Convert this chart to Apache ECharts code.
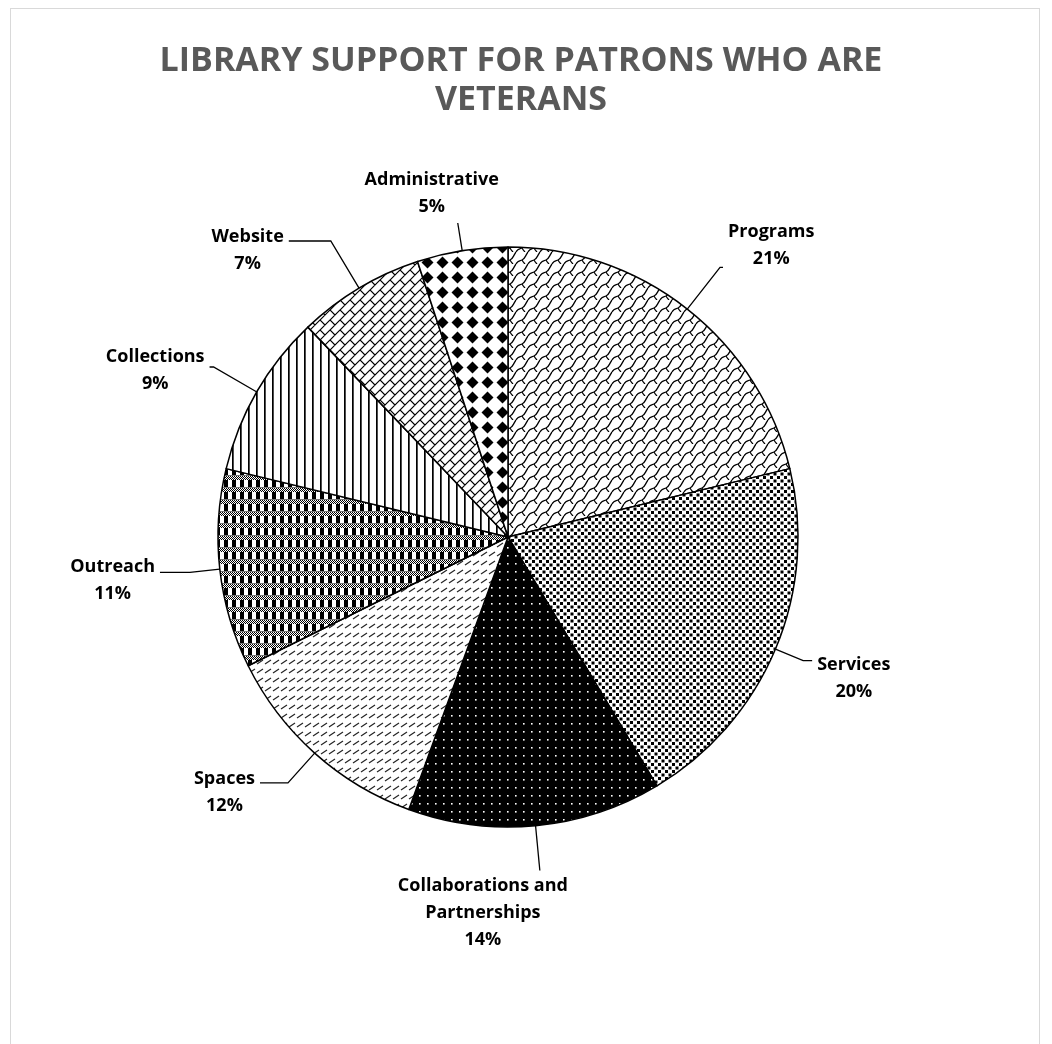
<!DOCTYPE html>
<html><head><meta charset="utf-8">
<script src="https://cdn.jsdelivr.net/npm/echarts@6/dist/echarts.min.js"></script>
<style>html,body{margin:0;padding:0;background:#fff}
#frame{position:absolute;left:10px;top:8px;width:1030px;height:1040px;border:1px solid #d9d9d9;box-sizing:border-box}
#c{position:absolute;left:0;top:0;width:1052px;height:1044px}</style>
</head><body><div id="frame"></div><div id="c"></div>
<script>
const categories = ['Programs','Services','Collaborations and\nPartnerships','Spaces','Outreach','Collections','Website','Administrative'];
const values = [21,20,14,12,11,9,7,5];

// label leader-line styling per slice (layout only)
const lineLen  = [53, 30, 45, 40, 30, 50, 55, 28];
const lineLen2 = [3, 9, 0, 28, 30, 4, 42, 0];
const attach = [
  {mode:'side', f:0.9}, {mode:'side', f:0.18}, {mode:'below', dx:-57}, {mode:'side', f:0.33},
  {mode:'side', f:0.36}, {mode:'side', f:0.44}, {mode:'side', f:0.32}, {mode:'above', dx:-26}
];

function tile(w,h,draw){const c=document.createElement('canvas');c.width=w;c.height=h;const g=c.getContext('2d');g.fillStyle='#fff';g.fillRect(0,0,w,h);draw(g,w,h);return {image:c,repeat:'repeat'};}
const patterns = [
 // Programs: shingle
 tile(12,12,(g)=>{g.strokeStyle='#000';g.lineWidth=1.3;g.beginPath();
   for(const o of [-12,0,12]){
     g.moveTo(o+0,12);g.bezierCurveTo(o+2,8,o+4,9,o+6,8);g.bezierCurveTo(o+9,7,o+9,4,o+12,0);
     g.moveTo(o+6,8);g.bezierCurveTo(o+7,10,o+8,11,o+9,12);
   }
   g.stroke();}),
 // Services: staggered small squares
 tile(7,7,(g)=>{g.fillStyle='#000';g.fillRect(0,0,3,3);g.fillRect(3.5,3.5,3,3);}),
 // Collaborations: black with white dots
 tile(8,8,(g)=>{g.fillStyle='#000';g.fillRect(0,0,8,8);g.fillStyle='#fff';g.fillRect(3,3,1.6,1.6);}),
 // Spaces: diagonal dashes
 tile(8,9,(g)=>{g.strokeStyle='#222';g.lineWidth=1.2;g.beginPath();g.moveTo(1,7);g.lineTo(7,3);g.stroke();}),
 // Outreach: plaid
 tile(8,12,(g)=>{g.fillStyle='#000';g.fillRect(0,0,4,7);
   for(let x=0;x<8;x+=2){for(let y=8;y<12;y++){g.fillRect(x+((y%2)?1:0),y,1,1);}}
   g.fillStyle='#777';g.fillRect(0,7,8,1);}),
 // Collections: vertical lines
 tile(8,8,(g)=>{g.fillStyle='#000';g.fillRect(0,0,1.7,8);}),
 // Website: diagonal brick (rotated 45deg)
 tile(10,10,(g)=>{const h=10/Math.SQRT2;g.strokeStyle='#000';g.lineWidth=1.2;g.rotate(-Math.PI/4);g.beginPath();
   for(let k=-6;k<=6;k++){g.moveTo(-60,k*h);g.lineTo(60,k*h);
     for(let j=-8;j<=8;j++){const x=(2*j+(((k%2)+2)%2))*h;g.moveTo(x,k*h);g.lineTo(x,(k+1)*h);}}
   g.stroke();}),
 // Administrative: diamonds
 tile(15,15,(g)=>{g.fillStyle='#000';g.beginPath();g.moveTo(7.5,1.5);g.lineTo(13.5,7.5);g.lineTo(7.5,13.5);g.lineTo(1.5,7.5);g.closePath();g.fill();})
];

const chart = echarts.init(document.getElementById('c'));
chart.setOption({
  backgroundColor:'transparent',
  title:{text:'LIBRARY SUPPORT FOR PATRONS WHO ARE\nVETERANS',left:516,textAlign:'center',top:37,
    textStyle:{fontFamily:'Open Sans',fontWeight:'bold',fontSize:34,color:'#595959',lineHeight:39}},
  series:[{type:'pie',center:[508,537],radius:[0,290],startAngle:90,clockwise:true,
    avoidLabelOverlap:false,
    data:categories.map((n,i)=>({name:n,value:values[i],itemStyle:{color:patterns[i]},
      labelLine:{length:lineLen[i],length2:lineLen2[i]}})),
    itemStyle:{borderColor:'#000',borderWidth:1.5},
    label:{show:true,formatter:'{b}\n{c}%',fontFamily:'Open Sans',fontWeight:'bold',fontSize:18,color:'#000',lineHeight:27},
    labelLine:{show:true,lineStyle:{color:'#000',width:1.3}},
    labelLayout:function(p){
      const a=attach[p.dataIndex]; const pts=p.labelLinePoints; const r=p.labelRect;
      if(!pts) return {};
      const p0=pts[0], p1=pts[1], p2=pts[2];
      const w=r.width, h=r.height;
      if(a.mode==='side'){
        const side = (p2[0]-p1[0])!==0 ? Math.sign(p2[0]-p1[0]) : Math.sign(p1[0]-p0[0]);
        return {x:p2[0]+side*(5+w/2), y:p2[1]-a.f*h+h/2, align:'center', verticalAlign:'middle', labelLinePoints:pts};
      } else if(a.mode==='below'){
        return {x:p1[0]+a.dx, y:p1[1]+2+h/2, align:'center', verticalAlign:'middle', labelLinePoints:pts};
      } else {
        return {x:p1[0]+a.dx, y:p1[1]-3-h/2, align:'center', verticalAlign:'middle', labelLinePoints:pts};
      }
    },
    emphasis:{disabled:true}, animation:false
  }]
});
</script></body></html>
